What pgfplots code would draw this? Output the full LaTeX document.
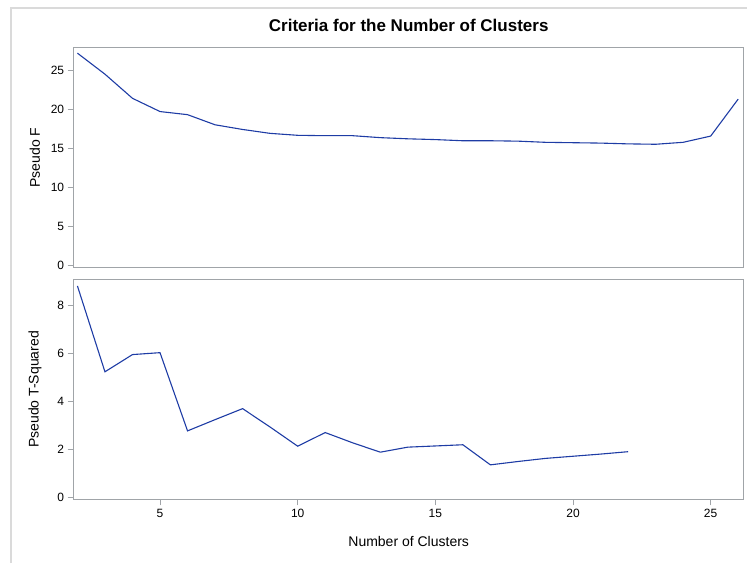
\documentclass[border=0pt]{standalone}
\usepackage{fontspec}
\setmainfont{Liberation Sans}
\usepackage{pgfplots}
\pgfplotsset{compat=1.18}
\definecolor{serie}{RGB}{30,60,165}
\definecolor{frame}{RGB}{160,164,168}
\definecolor{outer}{RGB}{218,218,218}
\begin{document}
\begin{tikzpicture}
\useasboundingbox (0pt,0pt) rectangle (747pt,563pt);
\draw[outer, line width=1.2pt] (11pt,0pt) -- (11pt,555pt) -- (747pt,555pt);
\pgfplotsset{
  cstyle/.style={
    scale only axis,
    anchor=south west,
    width=670pt,
    xmin=1.865, xmax=26.2,
    axis line style={frame, line width=1.1pt},
    tick style={frame, line width=0.9pt},
    tick align=outside,
    major tick length=6pt,
    ytick pos=left,
    xtick pos=bottom,
    /pgf/number format/assume math mode=true,
    tick label style={font=\fontsize{12}{14}\selectfont, black},
    label style={font=\fontsize{14}{16}\selectfont},
    ylabel style={at={(axis description cs:-0.0578,0.5)}, anchor=center},
  }
}
\begin{axis}[cstyle,
  at={(73.7pt,295.3pt)},
  height=220pt,
  ymin=-0.35, ymax=27.9,
  ytick={0,5,10,15,20,25},
  xtick=\empty,
  ylabel={Pseudo F},
  title={Criteria for the Number of Clusters},
  title style={font=\bfseries\fontsize{17}{19}\selectfont, at={(axis description cs:0.5,1.073)}, anchor=center},
]
\addplot[serie, line width=1.1pt] coordinates {
(2,27.2) (3,24.5) (4,21.4) (5,19.7) (6,19.3) (7,18.0) (8,17.4) (9,16.9)
(10,16.65) (11,16.6) (12,16.6) (13,16.35) (14,16.2) (15,16.1) (16,15.95)
(17,15.95) (18,15.9) (19,15.75) (20,15.7) (21,15.65) (22,15.55) (23,15.5)
(24,15.75) (25,16.55) (26,21.3)
};
\end{axis}
\begin{axis}[cstyle,
  at={(73.7pt,63.7pt)},
  height=219.6pt,
  ymin=-0.09, ymax=9.09,
  ytick={0,2,4,6,8},
  xtick={5,10,15,20,25},
  ylabel={Pseudo T-Squared},
  xlabel={Number of Clusters},
  xlabel style={at={(axis description cs:0.5,-0.192)}, anchor=center},
]
\addplot[serie, line width=1.1pt] coordinates {
(2,8.83) (3,5.24) (4,5.96) (5,6.04) (6,2.77) (7,3.24) (8,3.70) (9,2.93)
(10,2.13) (11,2.70) (12,2.27) (13,1.88) (14,2.09) (15,2.14) (16,2.19)
(17,1.35) (18,1.49) (19,1.62) (20,1.71) (21,1.80) (22,1.90)
};
\end{axis}
\end{tikzpicture}
\end{document}
